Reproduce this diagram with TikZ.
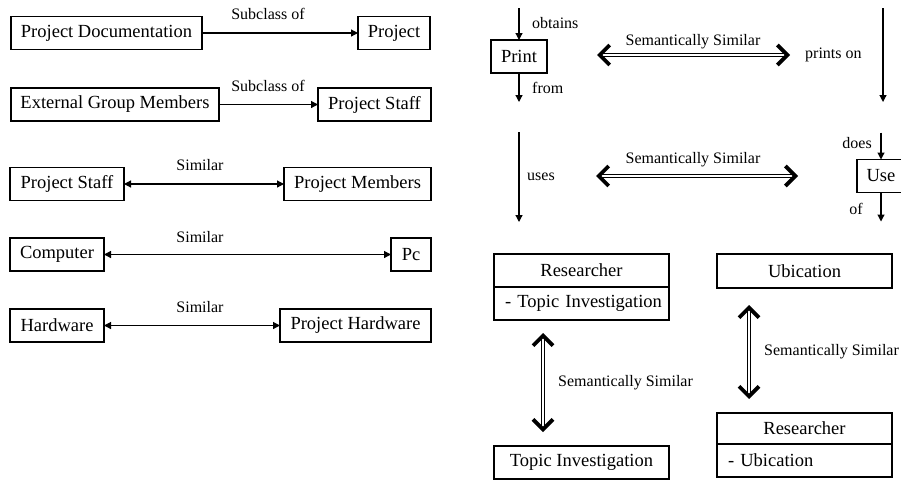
\documentclass[tikz,border=0pt]{standalone}
\usepackage{fontspec}
\setmainfont{Liberation Serif}
\usetikzlibrary{arrows.meta,positioning}
\tikzstyle{box}=[draw,rectangle,line width=1.2pt,inner sep=0pt,outer sep=0pt,minimum height=33pt,font=\fontsize{18.5}{20}\selectfont]
\tikzstyle{attr}=[box,inner xsep=5pt,text width=165pt,align=left,execute at begin node=\hspace*{6pt}]
\tikzstyle{lbl}=[inner sep=0pt,font=\fontsize{16}{18}\selectfont]
\tikzstyle{rel}=[line width=1.2pt,-{Triangle[length=7pt,width=7pt]}]
\tikzstyle{sim}=[line width=1.2pt,{Triangle[length=7pt,width=7pt]}-{Triangle[length=7pt,width=7pt]}]
\tikzstyle{semsim}=[double,double distance=2pt,line width=0.9pt,{Straight Barb[length=10pt,width=20pt,line width=3.8pt]}-{Straight Barb[length=10pt,width=20pt,line width=3.8pt]}]
\newcommand{\drawrels}[2][rel]{
	\foreach \a/\b in {#2}{
		\draw[#1] (\a) -- (\b);
	}
}

\begin{document}
\begin{tikzpicture}[x=1pt,y=-1pt]
\clip (0,0) rectangle (901,480);

% subclass of
\begin{scope}
\node[box,minimum width=191pt] (pdoc) at (106.5,33) {Project Documentation};
\node[box,minimum width=72pt] (proj) at (394,33) {Project};
\node[box,minimum width=208pt] (extg) at (115,104.5) {External Group Members};
\node[box,minimum width=113pt] (staffa) at (374.5,104.5) {Project Staff};
\node[lbl] at (268,14) {Subclass of};
\node[lbl] at (268,86) {Subclass of};
\drawrels{pdoc/proj,extg/staffa}
\end{scope}

% similar
\begin{scope}
\node[box,minimum width=114pt] (staffb) at (67,184) {Project Staff};
\node[box,minimum width=147pt] (pmem) at (357.5,184) {Project Members};
\node[box,minimum width=94pt] (comp) at (57,254.5) {Computer};
\node[box,minimum width=40pt] (pc) at (411,254.5) {Pc};
\node[box,minimum width=94pt] (hw) at (57,325.5) {Hardware};
\node[box,minimum width=151pt] (phw) at (355.5,325.5) {Project Hardware};
\node[lbl] at (200,165) {Similar};
\node[lbl] at (200,237) {Similar};
\node[lbl] at (200,307) {Similar};
\drawrels[sim]{staffb/pmem,comp/pc,hw/phw}
\end{scope}

% print || prints on, uses || does use of
\begin{scope}
\node[box,minimum width=56pt] (print) at (519,56.5) {Print};
\coordinate (obt) at ([yshift=32pt]print.north);
\coordinate (frm) at ([yshift=-29pt]print.south);
\node[lbl,anchor=west] at (532,23) {obtains};
\node[lbl,anchor=west] at (532,88) {from};
\coordinate (pon1) at (883,8);
\coordinate (pon2) at (883,102);
\node[lbl,anchor=west] at (805,55) {prints on};
\coordinate (usa) at (519,132);
\coordinate (usb) at (519,222);
\node[lbl,anchor=west] at (527,177) {uses};
\node[box,minimum width=48pt] (use) at (881,176) {Use};
\coordinate (dos) at ([yshift=27pt]use.north);
\coordinate (usof) at ([yshift=-29pt]use.south);
\node[lbl,anchor=east] at (872,143) {does};
\node[lbl,anchor=east] at (863,209) {of};
\drawrels{obt/print.north,print.south/frm,pon1/pon2,usa/usb,dos/use.north,use.south/usof}

\coordinate (sa1) at (597,55);
\coordinate (sb1) at (790,55);
\coordinate (sa2) at (596,176);
\coordinate (sb2) at (798,176);
\node[lbl] at (693,42) {Semantically Similar};
\node[lbl] at (693,160) {Semantically Similar};
\drawrels[semsim]{sa1/sb1,sa2/sb2}
\end{scope}

% researcher || topic, ubication || researcher
\begin{scope}
\node[box,minimum width=175pt] (resa) at (581.5,270.5) {Researcher};
\node[attr,below=0pt of resa] (resaat) {- Topic Investigation};
\node[box,minimum width=175pt] (topic) at (581.5,462.5) {Topic Investigation};
\node[box,minimum width=175pt,minimum height=34pt] (ubic) at (804.5,271) {Ubication};
\node[box,minimum width=175pt,minimum height=31pt] (resb) at (804.5,428.5) {Researcher};
\node[attr,below=0pt of resb] (resbat) {- Ubication};

\coordinate (sa3) at (543,333);
\coordinate (sb3) at (543,432);
\coordinate (sa4) at (749,305);
\coordinate (sb4) at (749,399);
\node[lbl,anchor=west] at (558,383) {Semantically Similar};
\node[lbl,anchor=west] at (764,352) {Semantically Similar};
\drawrels[semsim]{sa3/sb3,sa4/sb4}
\end{scope}

\end{tikzpicture}
\end{document}
